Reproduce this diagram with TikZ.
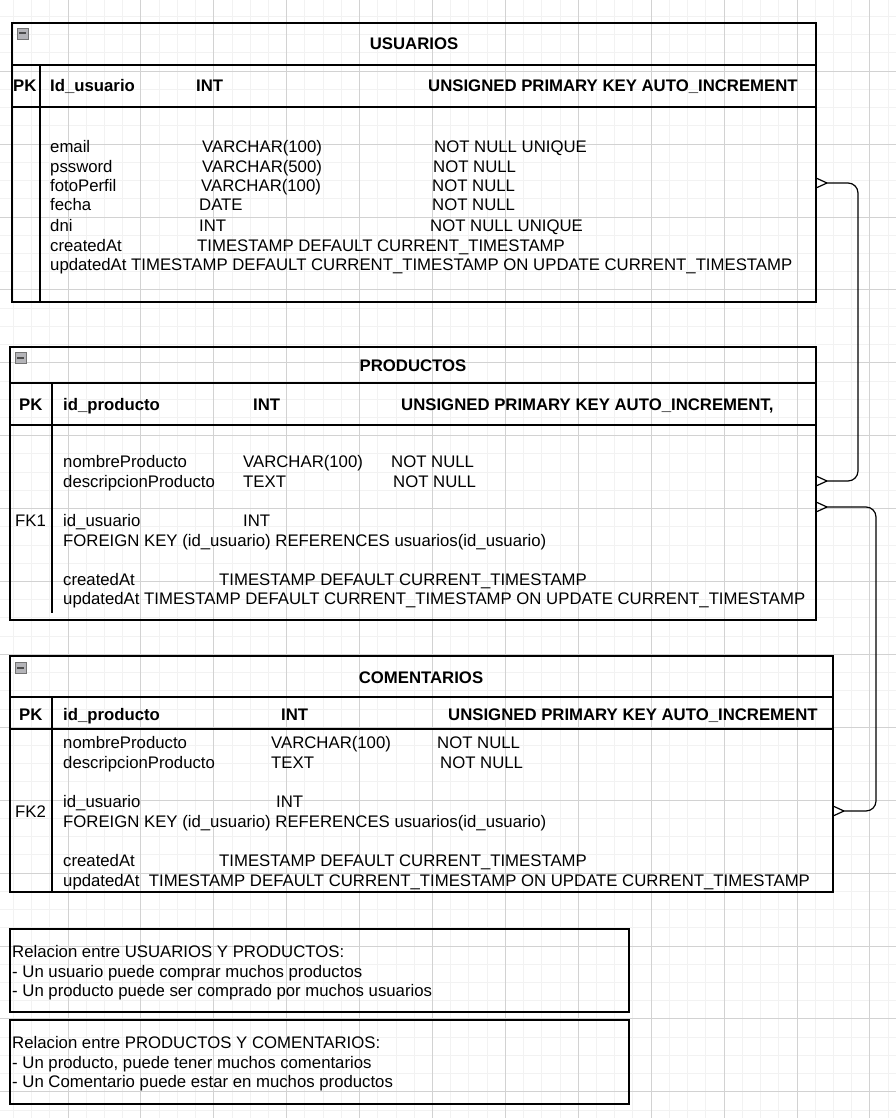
\documentclass[tikz,border=0pt]{standalone}
\usepackage{fontspec}
\setmainfont{Liberation Sans}
\usetikzlibrary{calc}

\definecolor{gridminor}{HTML}{F2F2F2}
\definecolor{gridmajor}{HTML}{D2D2D2}
\definecolor{togglegray}{HTML}{B4B4B8}

\begin{document}
\begin{tikzpicture}
  [x=1pt,y=-1pt,every node/.style={inner sep=0pt,font=\fontsize{16.75}{19.5}\selectfont}]

  \tikzstyle{field}  = [anchor=base west]
  \tikzstyle{key}    = [anchor=base west,font=\fontsize{16.75}{19.5}\selectfont\bfseries]
  \tikzstyle{title}  = [anchor=base,font=\fontsize{16.75}{19.5}\selectfont\bfseries]
  \tikzstyle{table}  = [draw,line width=1.3pt,outer sep=0pt,rectangle]
  \tikzstyle{note}   = [draw,line width=1.3pt,outer sep=0pt,rectangle]
  \tikzstyle{toggle} = [draw=black!55,fill=togglegray,minimum size=11pt,
                        path picture={\draw[line width=2pt,black!70]
                          ([xshift=2pt]path picture bounding box.west) --
                          ([xshift=-2pt]path picture bounding box.east);}]
  \tikzstyle{link}   = [line width=1.2pt]

  \useasboundingbox (0,0) rectangle (896,1118);
  \clip (0,0) rectangle (896,1118);

  \foreach \i in {0,...,50}
    \draw[gridminor,line width=1pt] (-4.9+18.225*\i,0) -- (-4.9+18.225*\i,1118);
  \foreach \i in {0,...,62}
    \draw[gridminor,line width=1pt] (0,-1.7+18.225*\i) -- (896,-1.7+18.225*\i);
  \foreach \i in {0,...,13}
    \draw[gridmajor,line width=1pt] (-4.9+72.9*\i,0) -- (-4.9+72.9*\i,1118);
  \foreach \i in {0,...,16}
    \draw[gridmajor,line width=1pt] (0,-1.7+72.9*\i) -- (896,-1.7+72.9*\i);

  % usuarios
  \node[table,minimum width=804pt,minimum height=279pt] (usuarios) at (414,162.5) {};
  \node[toggle] (usr-toggle) at (22.5,33.5) {};
  \draw[line width=1.3pt] (12,65) -- (816,65) (12,107) -- (816,107) (40,65) -- (40,302);
  \node[title] (usr-title) at (414,50) {USUARIOS};
  \node[key] (usr-pk)   at (13,92)  {PK};
  \node[key] (usr-id)   at (50,92)  {Id\_usuario};
  \node[key] (usr-int)  at (196,92) {INT};
  \node[key] (usr-attr) at (428,92) {UNSIGNED PRIMARY KEY AUTO\_INCREMENT};
  \node[field] (usr-email)   at (50,153)  {email};
  \node[field] (usr-email-t) at (202,153) {VARCHAR(100)};
  \node[field] (usr-email-c) at (434,153) {NOT NULL UNIQUE};
  \node[field] (usr-pass)    at (50,172)  {pssword};
  \node[field] (usr-pass-t)  at (202,172) {VARCHAR(500)};
  \node[field] (usr-pass-c)  at (433,172) {NOT NULL};
  \node[field] (usr-foto)    at (50,192)  {fotoPerfil};
  \node[field] (usr-foto-t)  at (201,192) {VARCHAR(100)};
  \node[field] (usr-foto-c)  at (432,192) {NOT NULL};
  \node[field] (usr-fecha)   at (50,211)  {fecha};
  \node[field] (usr-fecha-t) at (199,211) {DATE};
  \node[field] (usr-fecha-c) at (432,211) {NOT NULL};
  \node[field] (usr-dni)     at (50,231)  {dni};
  \node[field] (usr-dni-t)   at (199,231) {INT};
  \node[field] (usr-dni-c)   at (430,231) {NOT NULL UNIQUE};
  \node[field] (usr-created)   at (50,251)  {createdAt};
  \node[field] (usr-created-t) at (197,251) {TIMESTAMP DEFAULT CURRENT\_TIMESTAMP};
  \node[field] (usr-updated)   at (50,270)  {updatedAt TIMESTAMP DEFAULT CURRENT\_TIMESTAMP ON UPDATE CURRENT\_TIMESTAMP};

  % productos
  \node[table,minimum width=806pt,minimum height=273pt] (productos) at (413,483.5) {};
  \node[toggle] (prd-toggle) at (20.5,357.5) {};
  \draw[line width=1.3pt] (10,383) -- (816,383) (10,425) -- (816,425) (52,383) -- (52,613);
  \node[title] (prd-title) at (413,371) {PRODUCTOS};
  \node[key] (prd-pk)   at (19,410)  {PK};
  \node[key] (prd-id)   at (63,410)  {id\_producto};
  \node[key] (prd-int)  at (253,410) {INT};
  \node[key] (prd-attr) at (401,410) {UNSIGNED PRIMARY KEY AUTO\_INCREMENT,};
  \node[field] (prd-nombre)   at (63,467)  {nombreProducto};
  \node[field] (prd-nombre-t) at (243,467) {VARCHAR(100)};
  \node[field] (prd-nombre-c) at (391,467) {NOT NULL};
  \node[field] (prd-desc)     at (63,487)  {descripcionProducto};
  \node[field] (prd-desc-t)   at (243,487) {TEXT};
  \node[field] (prd-desc-c)   at (393,487) {NOT NULL};
  \node[field] (prd-fk)       at (15,526)  {FK1};
  \node[field] (prd-usr)      at (63,526)  {id\_usuario};
  \node[field] (prd-usr-t)    at (243,526) {INT};
  \node[field] (prd-ref)      at (63,546)  {FOREIGN KEY (id\_usuario) REFERENCES usuarios(id\_usuario)};
  \node[field] (prd-created)   at (63,585)  {createdAt};
  \node[field] (prd-created-t) at (219,585) {TIMESTAMP DEFAULT CURRENT\_TIMESTAMP};
  \node[field] (prd-updated)   at (63,604)  {updatedAt TIMESTAMP DEFAULT CURRENT\_TIMESTAMP ON UPDATE CURRENT\_TIMESTAMP};

  % comentarios
  \node[table,minimum width=823pt,minimum height=236pt] (comentarios) at (421.5,774) {};
  \node[toggle] (com-toggle) at (20.5,668) {};
  \draw[line width=1.3pt] (10,697) -- (833,697) (10,729) -- (833,729) (52,697) -- (52,892);
  \node[title] (com-title) at (421,683) {COMENTARIOS};
  \node[key] (com-pk)   at (19,720)  {PK};
  \node[key] (com-id)   at (63,720)  {id\_producto};
  \node[key] (com-int)  at (281,720) {INT};
  \node[key] (com-attr) at (448,720) {UNSIGNED PRIMARY KEY AUTO\_INCREMENT};
  \node[field] (com-nombre)   at (63,748)  {nombreProducto};
  \node[field] (com-nombre-t) at (271,748) {VARCHAR(100)};
  \node[field] (com-nombre-c) at (437,748) {NOT NULL};
  \node[field] (com-desc)     at (63,768)  {descripcionProducto};
  \node[field] (com-desc-t)   at (271,768) {TEXT};
  \node[field] (com-desc-c)   at (440,768) {NOT NULL};
  \node[field] (com-fk)       at (15,817)  {FK2};
  \node[field] (com-usr)      at (63,807)  {id\_usuario};
  \node[field] (com-usr-t)    at (276,807) {INT};
  \node[field] (com-ref)      at (63,827)  {FOREIGN KEY (id\_usuario) REFERENCES usuarios(id\_usuario)};
  \node[field] (com-created)   at (63,866)  {createdAt};
  \node[field] (com-created-t) at (219,866) {TIMESTAMP DEFAULT CURRENT\_TIMESTAMP};
  \node[field] (com-updated)   at (63,886)  {updatedAt\ \ TIMESTAMP DEFAULT CURRENT\_TIMESTAMP ON UPDATE CURRENT\_TIMESTAMP};

  % relaciones
  \node[note,minimum width=619pt,minimum height=83pt] (rel-usr-prd) at (319.5,970.5) {};
  \node[field] (rel-usr-prd-1) at (12,957) {Relacion entre USUARIOS Y PRODUCTOS:};
  \node[field] (rel-usr-prd-2) at (12,977) {- Un usuario puede comprar muchos productos};
  \node[field] (rel-usr-prd-3) at (12,996) {- Un producto puede ser comprado por muchos usuarios};
  \node[note,minimum width=619pt,minimum height=84pt] (rel-prd-com) at (319.5,1062) {};
  \node[field] (rel-prd-com-1) at (12,1048) {Relacion entre PRODUCTOS Y COMENTARIOS:};
  \node[field] (rel-prd-com-2) at (12,1068) {- Un producto, puede tener muchos comentarios};
  \node[field] (rel-prd-com-3) at (12,1087) {- Un Comentario puede estar en muchos productos};

  \coordinate (usr-p) at ([xshift=11pt,yshift=-20.5pt]usuarios.east);
  \coordinate (prd-a) at ([xshift=11pt,yshift=2.5pt]productos.east);
  \coordinate (prd-b) at ([xshift=11pt,yshift=-23.5pt]productos.east);
  \coordinate (com-p) at ([xshift=11pt,yshift=-37pt]comentarios.east);

  \foreach \c in {usr-p,prd-a,prd-b,com-p}
    \draw[link] (\c) -- ++(-11,-5) (\c) -- ++(-11,5);

  \draw[link,rounded corners=10pt] (usr-p) -- ++(31,0) |- (prd-a);
  \draw[link,rounded corners=10pt] (prd-b) -- ++(49,0) |- (com-p);
\end{tikzpicture}
\end{document}
